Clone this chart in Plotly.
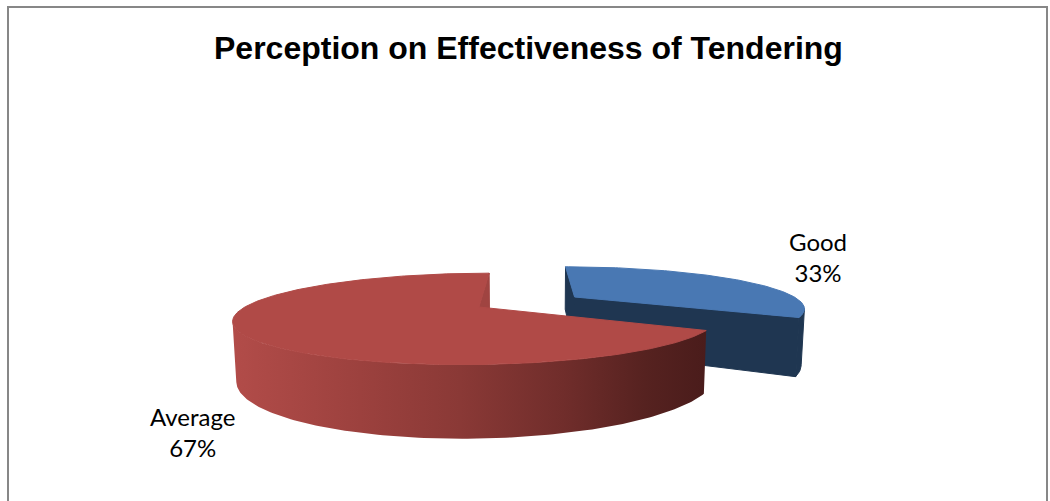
import numpy as np
import plotly.graph_objects as go

# ---- data -------------------------------------------------------------
categories = ["Good", "Average"]
values = [33, 67]
explode = [0.49, 0.0]          # slice offset, in units of the pie radius

top_colors = ["#4978B3", "#B04A47"]
side_colors = ["#1F3651", "#9C423F"]
cut_colors = ["#1F3651", "#A04441"]
# horizontal shading of the rim of the large slice (left -> right)
rim_gradient = [
    [0.00, "rgb(178,76,73)"],
    [0.27, "rgb(156,65,62)"],
    [0.48, "rgb(138,57,54)"],
    [0.70, "rgb(112,45,43)"],
    [0.87, "rgb(86,34,32)"],
    [1.00, "rgb(74,28,27)"],
]

title_text = "Perception on Effectiveness of Tendering"

# ---- simple pinhole camera looking at a disc of radius 1 ----------------
W, H = 1050, 501
CAM_DIST = 3.78
CAM_ELEV = np.radians(10.5)
CAM_X = 0.212
FOCAL = 884.5
PP_X, PP_Y = 528.5, 307.0
THICK = 0.245

ce, se = np.cos(CAM_ELEV), np.sin(CAM_ELEV)
cam_pos = np.array([CAM_X, -CAM_DIST * ce, CAM_DIST * se])


def project(p):
    p = np.atleast_2d(p)
    x, y, z = p[:, 0], p[:, 1], p[:, 2]
    depth = CAM_DIST + y * ce - z * se
    yc = y * se + z * ce
    return PP_X + FOCAL * (x - CAM_X) / depth, PP_Y - FOCAL * yc / depth


def facing(normal, point):
    return float(np.dot(normal, cam_pos - point)) > 0


def poly_trace(pts, color=None, gradient=None, edge=False):
    sx, sy = project(np.asarray(pts))
    if edge and color is not None:
        line = dict(width=1, color=color)
    else:
        line = dict(width=0)
    kw = dict(x=np.append(sx, sx[0]), y=np.append(sy, sy[0]), mode="lines",
              fill="toself", line=line, hoverinfo="skip", showlegend=False)
    if gradient is not None:
        kw["fillgradient"] = dict(type="horizontal", colorscale=gradient)
    else:
        kw["fillcolor"] = color
    return go.Scatter(**kw)


fig = go.Figure()

# slice angles, clockwise from the back of the pie
fractions = np.array(values, dtype=float) / sum(values)
ends = np.cumsum(fractions) * 2 * np.pi
starts = ends - fractions * 2 * np.pi

slices = []
for i in range(len(values)):
    a0, a1 = starts[i], ends[i]
    mid = 0.5 * (a0 + a1)
    off = np.array([explode[i] * np.sin(mid), explode[i] * np.cos(mid), 0.0])
    phi = np.linspace(a0, a1, max(8, int(np.degrees(a1 - a0))))
    rim = np.stack([np.sin(phi), np.cos(phi), np.zeros_like(phi)], axis=1)
    top = rim + off
    bot = top - np.array([0, 0, THICK])
    apex_t = off.copy()
    apex_b = off - np.array([0, 0, THICK])
    slices.append(dict(a0=a0, a1=a1, off=off, phi=phi, top=top, bot=bot,
                       apex_t=apex_t, apex_b=apex_b))

# slices further from the camera first
order = sorted(range(len(values)), key=lambda i: -slices[i]["off"][1])
for i in order:
    s = slices[i]
    a0, a1 = s["a0"], s["a1"]
    # radial cut faces
    n0 = np.array([-np.cos(a0), np.sin(a0), 0.0])
    if facing(n0, s["apex_t"]):
        fig.add_trace(poly_trace([s["apex_t"], s["top"][0], s["bot"][0], s["apex_b"]],
                                 cut_colors[i], edge=True))
    n1 = np.array([np.cos(a1), -np.sin(a1), 0.0])
    if facing(n1, s["apex_t"]):
        fig.add_trace(poly_trace([s["apex_t"], s["top"][-1], s["bot"][-1], s["apex_b"]],
                                 cut_colors[i], edge=True))
    # curved rim, only the part turned towards the camera
    vis = np.array([facing(np.array([np.sin(p), np.cos(p), 0.0]), t)
                    for p, t in zip(s["phi"], s["top"])])
    if vis.any():
        idx = np.where(vis)[0]
        lo, hi = max(idx[0] - 1, 0), min(idx[-1] + 1, len(vis) - 1)
        pts = list(s["top"][lo:hi + 1]) + list(s["bot"][lo:hi + 1][::-1])
        if i == categories.index("Average"):
            fig.add_trace(poly_trace(pts, gradient=rim_gradient))
        else:
            fig.add_trace(poly_trace(pts, side_colors[i], edge=True))
    # top face
    fig.add_trace(poly_trace([s["apex_t"]] + list(s["top"]), top_colors[i], edge=True))

# data labels
label_pos = {"Good": (818, 257), "Average": (192, 432)}
for name, v in zip(categories, values):
    lx, ly = label_pos[name]
    fig.add_annotation(x=lx, y=ly, xref="x", yref="y", text=f"{name}<br>{v}%",
                       showarrow=False, xanchor="center", yanchor="middle",
                       font=dict(family="Lato, Carlito, sans-serif", size=24, color="#000000"))

fig.add_annotation(x=528, y=48, xref="x", yref="y", text=f"<b>{title_text}</b>",
                   showarrow=False, xanchor="center", yanchor="middle",
                   font=dict(family="Liberation Sans, Arial, sans-serif", size=32, color="#000000"))

# chart frame
fig.add_shape(type="rect", x0=8, y0=7, x1=1047, y1=520, xref="x", yref="y",
              line=dict(color="#878787", width=2), fillcolor="rgba(0,0,0,0)", layer="below")

fig.update_layout(
    width=W, height=H, autosize=False,
    margin=dict(l=0, r=0, t=0, b=0),
    paper_bgcolor="white", plot_bgcolor="white",
    xaxis=dict(range=[0, W], visible=False, fixedrange=True),
    yaxis=dict(range=[H, 0], visible=False, fixedrange=True),
    showlegend=False,
)

fig.write_html("out.html")
